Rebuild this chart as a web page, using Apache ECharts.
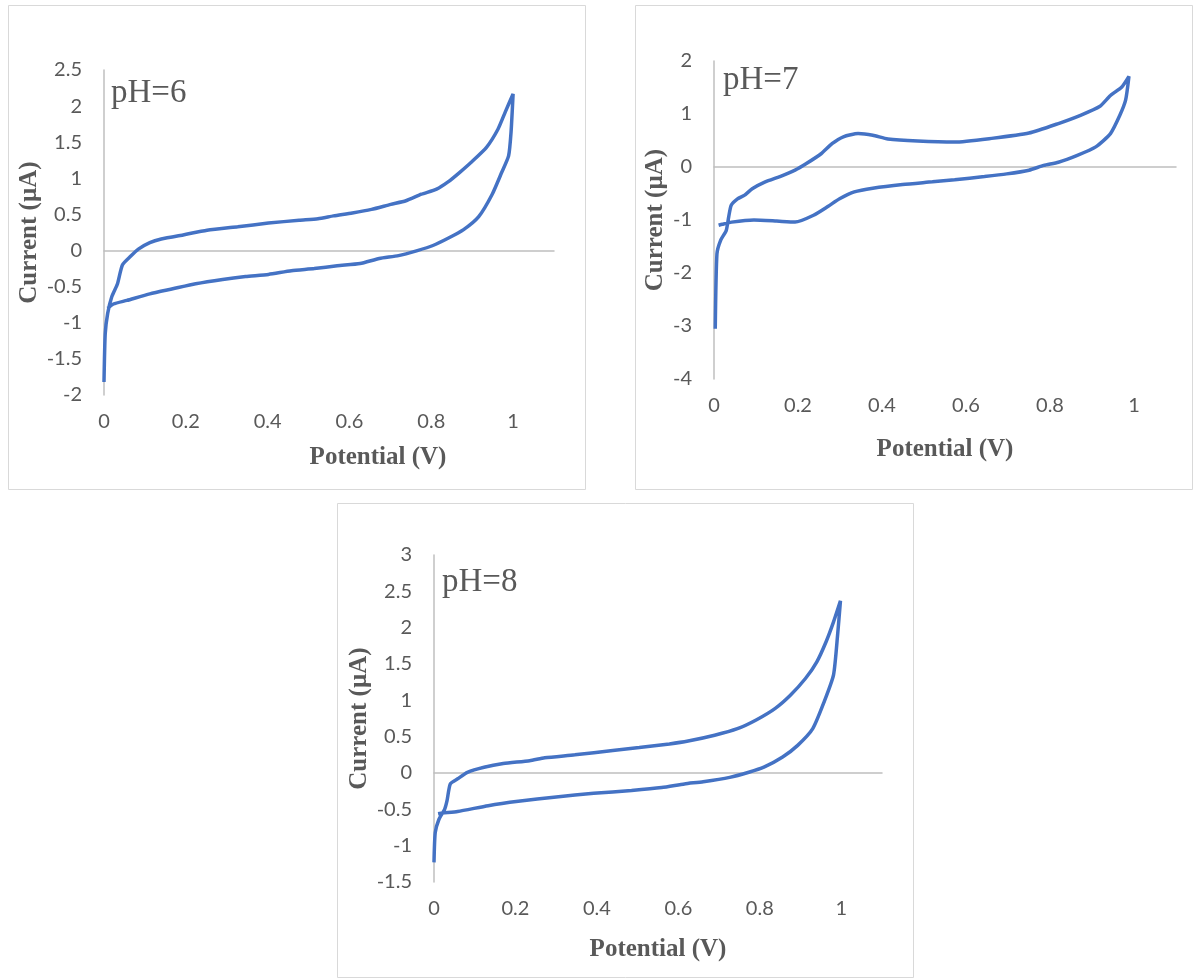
<!DOCTYPE html>
<html>
<head>
<meta charset="utf-8">
<script src="https://cdn.jsdelivr.net/npm/echarts@6/dist/echarts.min.js"></script>
<style>
  html, body { margin: 0; padding: 0; background: #fff; }
  #main { width: 1203px; height: 979px; }
</style>
</head>
<body>
<div id="main"></div>
<script>
// pH=6 cyclic voltammogram (forward sweep then return)
var ph6Potential = [0, 0.003, 0.009, 0.019, 0.033, 0.045, 0.065, 0.084, 0.112, 0.14, 0.196, 0.252, 0.327, 0.402, 0.477, 0.523, 0.561, 0.607, 0.654, 0.701, 0.738, 0.776, 0.813, 0.841, 0.869, 0.897, 0.935, 0.963, 0.981, 1.0,
                    0.995, 0.989, 0.972, 0.949, 0.916, 0.879, 0.841, 0.804, 0.766, 0.72, 0.673, 0.626, 0.57, 0.514, 0.458, 0.402, 0.346, 0.29, 0.224, 0.168, 0.112, 0.056, 0.023, 0.009];
var ph6Current = [-1.82, -1.15, -0.87, -0.64, -0.46, -0.2, -0.08, 0.02, 0.11, 0.16, 0.22, 0.28, 0.33, 0.38, 0.42, 0.44, 0.48, 0.52, 0.57, 0.64, 0.69, 0.78, 0.85, 0.95, 1.08, 1.22, 1.43, 1.68, 1.92, 2.17,
                  1.64, 1.31, 1.08, 0.78, 0.47, 0.29, 0.17, 0.07, 0.0, -0.07, -0.11, -0.18, -0.21, -0.25, -0.28, -0.33, -0.36, -0.4, -0.46, -0.53, -0.6, -0.69, -0.74, -0.8];

// pH=7
var ph7Potential = [0.003, 0.007, 0.016, 0.029, 0.035, 0.041, 0.056, 0.073, 0.091, 0.122, 0.157, 0.193, 0.219, 0.255, 0.281, 0.308, 0.343, 0.378, 0.414, 0.485, 0.573, 0.661, 0.75, 0.82, 0.874, 0.918, 0.944, 0.971, 0.988,
                    0.98, 0.966, 0.944, 0.909, 0.865, 0.82, 0.785, 0.75, 0.697, 0.644, 0.573, 0.52, 0.449, 0.378, 0.334, 0.299, 0.272, 0.237, 0.193, 0.149, 0.095, 0.042, 0.02, 0.011];
var ph7Current = [-3.05, -1.64, -1.38, -1.2, -0.94, -0.72, -0.6, -0.53, -0.41, -0.28, -0.18, -0.06, 0.06, 0.25, 0.44, 0.57, 0.63, 0.6, 0.53, 0.49, 0.47, 0.54, 0.64, 0.82, 0.98, 1.14, 1.35, 1.51, 1.71,
                  1.26, 0.97, 0.63, 0.38, 0.22, 0.09, 0.03, -0.06, -0.13, -0.18, -0.24, -0.28, -0.33, -0.4, -0.47, -0.6, -0.74, -0.91, -1.04, -1.02, -1.0, -1.04, -1.08, -1.1];

// pH=8
var ph8Potential = [0, 0.003, 0.012, 0.026, 0.032, 0.04, 0.058, 0.082, 0.123, 0.17, 0.235, 0.272, 0.346, 0.439, 0.504, 0.578, 0.624, 0.689, 0.745, 0.791, 0.838, 0.875, 0.912, 0.94, 0.963, 0.981, 0.998,
                    0.991, 0.981, 0.958, 0.93, 0.893, 0.856, 0.81, 0.773, 0.726, 0.661, 0.615, 0.559, 0.485, 0.392, 0.3, 0.207, 0.133, 0.058, 0.021, 0.01];
var ph8Current = [-1.23, -0.82, -0.64, -0.5, -0.38, -0.15, -0.08, 0.01, 0.08, 0.13, 0.17, 0.21, 0.25, 0.31, 0.35, 0.4, 0.44, 0.52, 0.61, 0.73, 0.89, 1.07, 1.3, 1.53, 1.81, 2.08, 2.37,
                  1.9, 1.35, 0.98, 0.61, 0.38, 0.22, 0.08, 0.01, -0.06, -0.12, -0.15, -0.2, -0.24, -0.28, -0.33, -0.39, -0.45, -0.53, -0.55, -0.56];

var xTicks = [0, 0.2, 0.4, 0.6, 0.8, 1];

var textGray = '#595959';
var axisGray = '#bfbfbf';
var lineBlue = '#4472C4';

function pairs(xs, ys) {
    var out = [];
    for (var i = 0; i < xs.length; i++) out.push([xs[i], ys[i]]);
    return out;
}

// one panel = grid + label x axis + zero-line x axis + y axis
var panels = [
    { label: 'pH=6', grid: {left: 104, top: 70, width: 450, height: 325}, ymin: -2, ymax: 2.5, step: 0.5,
      xs: ph6Potential, ys: ph6Current, labelPos: [111, 77], xNameGap: 50, xNamePad: [0, 0, 0, 98], yNameGap: 62 },
    { label: 'pH=7', grid: {left: 714, top: 61, width: 462, height: 318}, ymin: -4, ymax: 2, step: 1,
      xs: ph7Potential, ys: ph7Current, labelPos: [723, 64], xNameGap: 58, xNamePad: 0, yNameGap: 46 },
    { label: 'pH=8', grid: {left: 434, top: 555, width: 448, height: 327}, ymin: -1.5, ymax: 3, step: 0.5,
      xs: ph8Potential, ys: ph8Current, labelPos: [442, 566], xNameGap: 55, xNamePad: 0, yNameGap: 62 }
];

var option = {
    backgroundColor: '#ffffff',
    animation: false,
    title: [],
    grid: [],
    xAxis: [],
    yAxis: [],
    series: [],
    graphic: [
        { type: 'rect', shape: {x: 8.5, y: 5.5, width: 577, height: 484}, style: {fill: 'none', stroke: '#d9d9d9', lineWidth: 1} },
        { type: 'rect', shape: {x: 635.5, y: 5.5, width: 557, height: 484}, style: {fill: 'none', stroke: '#d9d9d9', lineWidth: 1} },
        { type: 'rect', shape: {x: 337.5, y: 503.5, width: 576, height: 474}, style: {fill: 'none', stroke: '#d9d9d9', lineWidth: 1} }
    ]
};

panels.forEach(function (p, i) {
    option.grid.push(p.grid);
    option.title.push({
        text: p.label, left: p.labelPos[0], top: p.labelPos[1], padding: 0,
        textStyle: {fontFamily: 'Liberation Serif', fontSize: 33, fontWeight: 'normal', color: textGray}
    });
    // bottom axis: labels and name only
    option.xAxis.push({
        type: 'value', gridIndex: i, min: 0, max: 1.1, interval: 0.2,
        axisLine: {show: false, onZero: false},
        axisTick: {show: false},
        splitLine: {show: false},
        axisLabel: {
            margin: 17, color: textGray, fontFamily: 'Lato', fontSize: 20,
            showMaxLabel: false,
            formatter: function (v) { return xTicks.indexOf(Math.round(v * 10) / 10) >= 0 ? String(Math.round(v * 10) / 10) : ''; }
        },
        name: 'Potential (V)', nameLocation: 'middle', nameGap: p.xNameGap,
        nameTextStyle: {fontFamily: 'Liberation Serif', fontSize: 25, fontWeight: 'bold', color: textGray, padding: p.xNamePad}
    });
    // axis line drawn at current = 0
    option.xAxis.push({
        type: 'value', gridIndex: i, min: 0, max: 1.1, position: 'bottom',
        axisLine: {show: true, onZero: true, lineStyle: {color: axisGray, width: 1.5}},
        axisTick: {show: false},
        axisLabel: {show: false},
        splitLine: {show: false}
    });
    option.yAxis.push({
        type: 'value', gridIndex: i, min: p.ymin, max: p.ymax, interval: p.step,
        axisLine: {show: true, onZero: false, lineStyle: {color: axisGray, width: 1.5}},
        axisTick: {show: false},
        splitLine: {show: false},
        axisLabel: {margin: 22, color: textGray, fontFamily: 'Lato', fontSize: 20},
        name: 'Current (µA)', nameLocation: 'middle', nameGap: p.yNameGap,
        nameTextStyle: {fontFamily: 'Liberation Serif', fontSize: 25, fontWeight: 'bold', color: textGray}
    });
    option.series.push({
        type: 'line', xAxisIndex: i * 2, yAxisIndex: i,
        data: pairs(p.xs, p.ys),
        showSymbol: false, smooth: 0.2,
        lineStyle: {color: lineBlue, width: 3.5}
    });
});

var myChart = echarts.init(document.getElementById('main'));
myChart.setOption(option);
</script>
</body>
</html>
